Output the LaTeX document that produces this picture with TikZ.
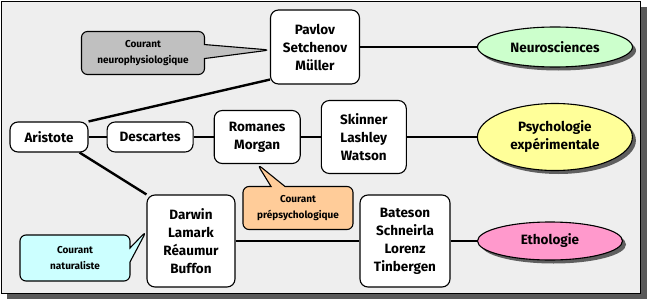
\documentclass[tikz,border=0pt]{standalone}
\usepackage{fontspec}
\setmainfont{Fira Sans}
\usetikzlibrary{positioning,shapes.geometric,shapes.callouts,shadows}
\definecolor{panelgray}{HTML}{EEEEEE}
\definecolor{neurogreen}{HTML}{CCFFCC}
\definecolor{psyyellow}{HTML}{FFFF99}
\definecolor{ethopink}{HTML}{FF99CC}
\definecolor{bubgray}{HTML}{C0C0C0}
\definecolor{buborange}{HTML}{FFCC99}
\definecolor{bubcyan}{HTML}{CCFFFF}
\pgfdeclarelayer{bottom}
\pgfdeclarelayer{background}
\pgfsetlayers{bottom,background,main}
\tikzset{
  link/.style={line width=2.4pt,black},
  person/.style={draw=black,line width=1.1pt,rounded corners=8pt,fill=white,align=center,
                 inner sep=2pt,font=\fontsize{13.5}{18}\selectfont\bfseries},
  field/.style={ellipse,draw=black,line width=1.1pt,align=center,inner sep=1pt,
                font=\fontsize{13.5}{18}\selectfont\bfseries,
                drop shadow={shadow xshift=3.5pt,shadow yshift=-3.5pt,fill=black,opacity=0.6}},
  bubble/.style={rectangle callout,draw=black,line width=1.1pt,rounded corners=6pt,align=center,
                 inner sep=2pt,callout pointer width=14pt,
                 font=\fontsize{10}{16}\selectfont\bfseries}
}

\begin{document}
\begin{tikzpicture}[x=1pt,y=-1pt]
\useasboundingbox (0,0) rectangle (650,305);
\begin{pgfonlayer}{bottom}
\fill[black!65] (7,7) rectangle (647,299);
\draw[fill=panelgray,line width=0.8pt] (1,1) rectangle (640,293);
\end{pgfonlayer}

% chaine centrale
\node[person, minimum width=78pt, minimum height=30pt] (aristote) at (49,137) {Aristote};
\node[person, minimum width=86pt, minimum height=30pt, right=18pt of aristote] (descartes) {Descartes};
\node[person, minimum width=86pt, minimum height=53pt, right=20pt of descartes] (romanes) {Romanes\\Morgan};
\node[person, minimum width=85pt, minimum height=73pt, right=20pt of romanes] (skinner) {Skinner\\Lashley\\Watson};
\node[field, fill=psyyellow, minimum width=155pt, minimum height=67pt, right=70pt of skinner] (psycho)
   {Psychologie\\expérimentale};

% branche haute
\node[person, minimum width=89pt, minimum height=74pt] (pavlov) at (315,47) {Pavlov\\Setchenov\\Müller};
\node[field, fill=neurogreen, minimum width=155pt, minimum height=40pt] (neuro) at (555,47) {Neurosciences};

% branche basse
\node[person, minimum width=88pt, minimum height=92pt] (darwin) at (191,241) {Darwin\\Lamark\\Réaumur\\Buffon};
\node[person, minimum width=90pt, minimum height=92pt] (bateson) at (405,241) {Bateson\\Schneirla\\Lorenz\\Tinbergen};
\node[field, fill=ethopink, minimum width=145pt, minimum height=38pt] (etho) at (550,241) {Ethologie};

% bulles
\node[bubble, fill=bubgray, minimum width=123pt, minimum height=43pt,
      callout absolute pointer={([yshift=-3pt]pavlov.west)}] (cneuro) at (143,53)
   {Courant\\neurophysiologique};
\node[bubble, fill=bubcyan, minimum width=110pt, minimum height=46pt,
      callout absolute pointer={([yshift=10pt]darwin.west)}] (cnatur) at (75,258)
   {Courant\\naturaliste};
\node[bubble, fill=buborange, minimum width=110pt, minimum height=43pt,
      callout absolute pointer={(romanes.south)}] (cprepsy) at (298,208)
   {Courant\\prépsychologique};

\begin{pgfonlayer}{background}
\draw[link] (aristote) -- (descartes);
\draw[link] (descartes) -- (romanes);
\draw[link] (romanes) -- (skinner);
\draw[link] (skinner) -- (psycho);
\draw[link] (aristote.north east) -- ([yshift=5pt]pavlov.south west);
\draw[link] (pavlov) -- (neuro);
\draw[link] ([xshift=-9pt]aristote.south east) -- (darwin.north west);
\draw[link] (darwin) -- (bateson);
\draw[link] (bateson) -- (etho);
\end{pgfonlayer}
\end{tikzpicture}
\end{document}
